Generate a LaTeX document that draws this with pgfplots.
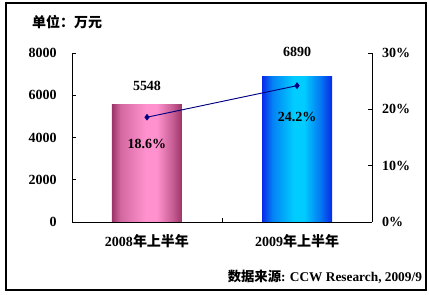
\documentclass[border=0pt]{standalone}
\usepackage{pgfplots}
\pgfplotsset{compat=1.18}
\usepackage{fontspec}
\setmainfont{Liberation Serif}
\newfontfamily\cjk{Noto Sans CJK SC}
\definecolor{pinkdark}{HTML}{9C3468}
\definecolor{pinklight}{HTML}{FF92CE}
\definecolor{bluedark}{HTML}{0828E8}
\definecolor{bluelight}{HTML}{00CCFF}
\definecolor{navy}{HTML}{000080}
\pgfdeclarehorizontalshading{pinkshade}{100bp}{color(0bp)=(pinkdark); color(25bp)=(pinkdark); color(31bp)=(pinkdark!45!pinklight); color(49bp)=(pinklight); color(57bp)=(pinklight); color(68bp)=(pinklight!45!pinkdark); color(75bp)=(pinkdark); color(100bp)=(pinkdark)}
\pgfdeclarehorizontalshading{blueshade}{100bp}{color(0bp)=(bluedark); color(25bp)=(bluedark); color(32.5bp)=(bluedark!45!bluelight); color(47.5bp)=(bluelight); color(55bp)=(bluelight); color(67.5bp)=(bluelight!45!bluedark); color(75bp)=(bluedark); color(100bp)=(bluedark)}
\tikzset{lbl/.style={font=\bfseries\fontsize{10.5}{12}\selectfont}}
\begin{document}
\begin{tikzpicture}
\path (-54pt,-54.75pt) rectangle (267.75pt,166.5pt);
\draw[line width=0.9pt] (-49.5pt,-51pt) rectangle (265.5pt,164.25pt);
\node[anchor=west, lbl] at (-33.5pt,150pt) {\cjk 单位：万元};
\node[anchor=east, font=\bfseries\fontsize{10}{12}\selectfont] at (266pt,-41.25pt) {{\cjk 数据来源}: CCW Research, 2009/9};
\begin{axis}[scale only axis,
  width=225pt, height=126.75pt,
  xmin=-0.5, xmax=1.5, ymin=0, ymax=8000,
  axis x line*=bottom, axis y line*=left,
  axis line style={-, line width=0.6pt},
  xtick={0,1}, xticklabels={2008{\cjk 年上半年},2009{\cjk 年上半年}},
  xtick style={draw=none},
  ytick={0,2000,4000,6000,8000},
  tick align=inside, major tick length=3pt,
  ytick style={black, line width=0.6pt},
  ticklabel style={/tikz/lbl},
  /pgf/number format/assume math mode=true,
  /pgf/number format/1000 sep={},
  yticklabel style={xshift=-8pt},
  xticklabel style={yshift=-6pt},
  clip=false]
\addplot[ybar, bar width=52.5pt, draw=none, fill=pinkdark, shading=pinkshade, shade] coordinates {(0,5548)};
\addplot[ybar, bar width=52.5pt, draw=none, fill=bluedark, shading=blueshade, shade] coordinates {(1,6890)};
\addplot[draw=none, mark=none, nodes near coords, point meta=y,
  nodes near coords style={anchor=south, yshift=7pt, black, /tikz/lbl}] coordinates {(0,5548)};
\addplot[draw=none, mark=none, nodes near coords, point meta=y,
  nodes near coords style={anchor=south, yshift=11pt, black, /tikz/lbl}] coordinates {(1,6890)};
\draw[line width=0.6pt] (axis cs:0.5,0) -- (axis cs:0.5,190);
\end{axis}
\begin{axis}[scale only axis,
  width=225pt, height=126.75pt,
  xmin=-0.5, xmax=1.5, ymin=0, ymax=30,
  axis x line=none, axis y line*=right,
  axis line style={-, line width=0.6pt},
  ytick={0,10,20,30},
  yticklabel={\pgfmathprintnumber{\tick}\%},
  tick align=inside, major tick length=3pt,
  ytick style={black, line width=0.6pt},
  ticklabel style={/tikz/lbl},
  /pgf/number format/assume math mode=true,
  yticklabel style={xshift=4pt},
  clip=false]
\addplot[navy, line width=0.7pt, mark=diamond*, mark size=2pt] coordinates {(0,18.6) (1,24.2)};
\addplot[draw=none, mark=none, nodes near coords, point meta=explicit symbolic,
  nodes near coords style={anchor=north, yshift=-13pt, black, /tikz/lbl}] coordinates {(0,18.6) [18.6\%]};
\addplot[draw=none, mark=none, nodes near coords, point meta=explicit symbolic,
  nodes near coords style={anchor=north, yshift=-16pt, black, /tikz/lbl}] coordinates {(1,24.2) [24.2\%]};
\end{axis}
\end{tikzpicture}
\end{document}
